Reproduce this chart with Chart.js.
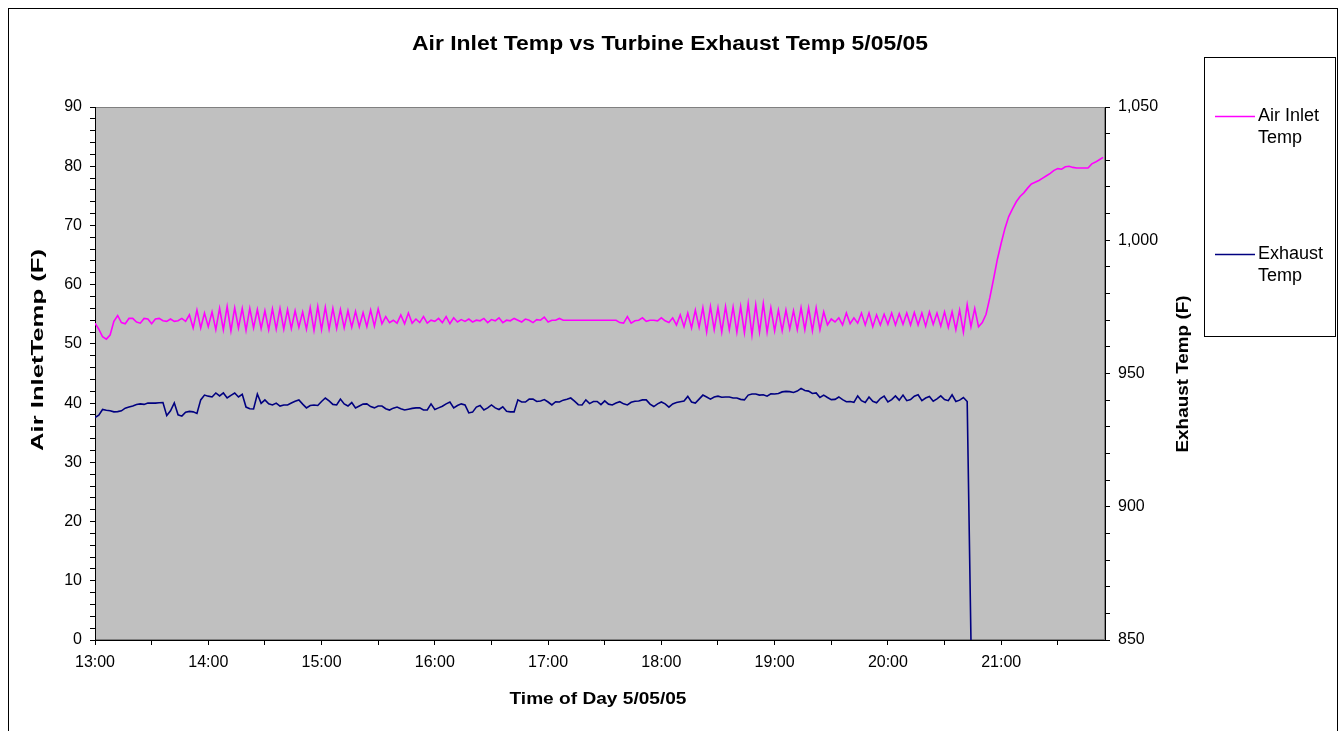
<!DOCTYPE html>
<html>
<head>
<meta charset="utf-8">
<title>Air Inlet Temp vs Turbine Exhaust Temp 5/05/05</title>
<script src="https://cdn.jsdelivr.net/npm/chart.js@4.4.1/dist/chart.umd.min.js"></script>
<style>
  html, body { margin: 0; padding: 0; background: #fff; }
  .chart-wrap { width: 1342px; height: 731px; }
</style>
</head>
<body>
<div class="chart-wrap"><canvas id="js-temp-chart"></canvas></div>
<script>
// readings every 2 minutes starting 13:00
const sampleStep = 2;
const tickHours = ['13:00', '14:00', '15:00', '16:00', '17:00', '18:00', '19:00', '20:00', '21:00'];

const airInletTemp = [
  53.5, 52.5, 51.2, 50.8, 51.5, 53.8, 54.8, 53.6, 53.4, 54.3,
  54.3, 53.7, 53.5, 54.3, 54.2, 53.4, 54.2, 54.3, 53.9, 53.8,
  54.2, 53.8, 53.9, 54.3, 53.8, 54.9, 52.7, 55.7, 52.7, 55.2,
  52.9, 55.4, 52.4, 56.0, 52.4, 56.3, 52.2, 56.1, 52.7, 56.0,
  52.3, 56.0, 52.7, 55.8, 52.6, 55.6, 52.4, 55.9, 52.5, 56.0,
  52.5, 55.8, 52.6, 55.6, 52.8, 55.4, 52.5, 56.1, 52.3, 56.3,
  52.4, 56.2, 52.5, 56.0, 52.6, 55.8, 52.7, 55.6, 52.8, 55.5,
  52.9, 55.3, 52.9, 55.7, 53.0, 55.9, 53.4, 54.6, 53.6, 54.0,
  53.5, 54.9, 53.4, 55.2, 53.5, 54.2, 53.6, 54.6, 53.5, 54.0,
  53.8, 54.3, 53.6, 54.6, 53.4, 54.4, 53.7, 54.1, 53.8, 54.2,
  53.7, 54.0, 53.9, 54.3, 53.6, 54.1, 53.9, 54.4, 53.6, 54.0,
  53.9, 54.3, 54.0, 53.7, 54.2, 54.0, 53.6, 54.1, 54.0, 54.5,
  53.7, 54.0, 54.0, 54.3, 54.0, 54.0, 54.0, 54.0, 54.0, 54.0,
  54.0, 54.0, 54.0, 54.0, 54.0, 54.0, 54.0, 54.0, 54.0, 53.6,
  53.5, 54.6, 53.5, 53.9, 54.0, 54.4, 53.8, 54.0, 54.0, 53.9,
  54.4, 53.9, 53.6, 54.4, 53.2, 54.9, 52.9, 55.2, 52.7, 55.7,
  52.8, 56.1, 52.0, 56.3, 52.4, 56.1, 52.0, 56.3, 52.4, 56.2,
  52.0, 56.3, 51.9, 56.8, 51.5, 56.6, 52.0, 56.8, 52.0, 56.1,
  52.2, 55.7, 52.2, 55.7, 52.5, 55.6, 52.4, 56.1, 52.4, 56.1,
  52.2, 56.1, 52.4, 55.4, 53.2, 54.2, 53.7, 54.4, 53.2, 55.2,
  53.4, 54.4, 53.5, 55.2, 53.2, 55.2, 52.9, 54.9, 53.2, 55.0,
  53.3, 55.2, 53.2, 55.1, 53.3, 55.2, 53.2, 55.3, 53.2, 55.2,
  53.0, 55.4, 53.3, 55.2, 53.0, 55.4, 52.8, 55.4, 52.4, 55.7,
  52.0, 56.6, 52.9, 56.0, 52.9, 53.6, 55.0, 57.8, 61.0, 64.3,
  67.0, 69.5, 71.5, 72.8, 74.0, 74.9, 75.5, 76.3, 77.0, 77.3,
  77.6, 78.0, 78.4, 78.8, 79.3, 79.6, 79.5, 79.9, 80.0, 79.8,
  79.7, 79.7, 79.7, 79.7, 80.4, 80.7, 81.1, 81.5
];

const exhaustTemp = [
  933.5, 934.4, 936.5, 936.2, 936.0, 935.6, 935.7, 936.0, 937.0, 937.4,
  937.8, 938.4, 938.6, 938.4, 938.9, 938.9, 938.9, 939.0, 939.1, 934.2,
  936.0, 939.0, 934.5, 934.0, 935.5, 935.8, 935.6, 935.0, 940.1, 941.9,
  941.5, 941.2, 942.7, 941.6, 942.7, 940.8, 941.8, 942.7, 941.2, 942.2,
  937.4, 936.8, 936.7, 942.3, 938.8, 940.1, 938.6, 938.2, 938.9, 937.8,
  938.2, 938.2, 938.9, 939.6, 940.1, 938.5, 937.1, 938.0, 938.2, 938.0,
  939.5, 940.8, 939.7, 938.4, 938.2, 940.4, 938.6, 937.8, 939.1, 937.1,
  937.8, 938.5, 938.6, 937.6, 937.1, 937.8, 937.8, 936.8, 936.3, 937.0,
  937.4, 936.8, 936.3, 936.6, 936.9, 937.1, 937.1, 936.3, 936.3, 938.6,
  936.5, 937.1, 937.7, 938.6, 939.3, 937.1, 938.0, 938.6, 938.2, 935.2,
  935.5, 937.4, 938.0, 936.3, 937.1, 938.2, 937.1, 936.5, 937.5, 935.8,
  935.6, 935.6, 940.1, 939.3, 939.3, 940.4, 940.4, 939.5, 939.7, 940.2,
  939.3, 938.2, 939.4, 939.3, 940.0, 940.3, 940.8, 939.6, 938.3, 938.2,
  940.1, 938.7, 939.5, 939.5, 938.3, 939.7, 938.5, 938.2, 938.9, 939.4,
  938.6, 938.2, 939.2, 939.6, 939.7, 940.1, 940.1, 938.5, 937.6, 938.6,
  939.3, 938.6, 937.4, 938.6, 939.1, 939.4, 939.7, 941.4, 939.3, 938.9,
  940.4, 941.9, 941.2, 940.4, 941.2, 941.5, 941.1, 941.2, 941.2, 940.8,
  940.8, 940.3, 940.1, 941.9, 942.3, 942.3, 941.9, 942.0, 941.5, 942.4,
  942.3, 942.5, 943.1, 943.3, 943.2, 942.9, 943.4, 944.4, 943.6, 943.4,
  942.5, 942.7, 941.0, 941.9, 941.0, 940.2, 940.3, 941.2, 940.2, 939.4,
  939.5, 939.2, 941.6, 939.8, 939.1, 941.2, 939.6, 939.0, 940.6, 941.5,
  939.3, 940.2, 941.6, 940.0, 941.9, 939.8, 940.2, 941.5, 942.0, 939.8,
  940.8, 941.4, 939.6, 940.5, 941.6, 940.2, 939.8, 942.0, 939.5, 940.0,
  941.0, 939.5, 850.0
];

const tempCanvas = document.querySelector('#js-temp-chart');
const fontFamily = "'Liberation Sans', Arial, sans-serif";

Chart.defaults.font.family = fontFamily;
Chart.defaults.color = '#000';

const toPoints = (values) => values.map((v, i) => ({ x: i * sampleStep, y: v }));

// stretch a label along its own direction so it spans the given length
const drawFittedText = (ctx, text, x, y, length, rotation) => {
  ctx.save();
  ctx.translate(x, y);
  ctx.rotate(rotation);
  ctx.scale(length / ctx.measureText(text).width, 1);
  ctx.fillText(text, 0, 0);
  ctx.restore();
};

const chartDecor = {
  id: 'chartDecor',
  beforeDraw(chart) {
    const { ctx, chartArea: { left, top, right, bottom } } = chart;
    ctx.save();
    ctx.fillStyle = '#fff';
    ctx.fillRect(0, 0, chart.width, chart.height);
    ctx.fillStyle = '#c0c0c0';
    ctx.fillRect(left, top, right - left, bottom - top);
    ctx.strokeStyle = '#808080';
    ctx.lineWidth = 1;
    ctx.strokeRect(left + 0.5, top + 0.5, right - left - 1, bottom - top - 1);
    ctx.restore();
  },
  afterDraw(chart) {
    const { ctx } = chart;
    ctx.save();

    // outer frame
    ctx.strokeStyle = '#000';
    ctx.lineWidth = 1;
    ctx.strokeRect(8.5, 8.5, 1329, 740);

    ctx.fillStyle = '#000';
    ctx.textAlign = 'center';
    ctx.textBaseline = 'middle';

    ctx.font = `bold 20px ${fontFamily}`;
    drawFittedText(ctx, 'Air Inlet Temp vs Turbine Exhaust Temp 5/05/05', 670, 44, 516, 0);

    ctx.font = `bold 17px ${fontFamily}`;
    drawFittedText(ctx, 'Time of Day 5/05/05', 598, 699, 177, 0);
    drawFittedText(ctx, 'Air InletTemp (F)', 38, 350, 202, -Math.PI / 2);
    drawFittedText(ctx, 'Exhaust Temp (F)', 1183, 374, 157, -Math.PI / 2);

    // legend box
    ctx.fillStyle = '#fff';
    ctx.fillRect(1204, 57, 131, 279);
    ctx.strokeRect(1204.5, 57.5, 131, 279);

    const legendItems = [
      { lines: ['Air Inlet', 'Temp'], color: '#ff00ff', y: 116 },
      { lines: ['Exhaust', 'Temp'], color: '#000080', y: 254 },
    ];

    ctx.font = `18px ${fontFamily}`;
    ctx.textAlign = 'left';
    for (const item of legendItems) {
      ctx.strokeStyle = item.color;
      ctx.lineWidth = 1.5;
      ctx.beginPath();
      ctx.moveTo(1215, item.y + 0.5);
      ctx.lineTo(1255, item.y + 0.5);
      ctx.stroke();
      ctx.fillStyle = '#000';
      item.lines.forEach((line, i) => ctx.fillText(line, 1258, item.y + i * 22));
    }

    ctx.restore();
  }
};

const tempData = {
  datasets: [
    {
      label: 'Air Inlet Temp',
      data: toPoints(airInletTemp),
      borderColor: '#ff00ff',
      borderWidth: 1.6,
      pointRadius: 0,
      yAxisID: 'y',
    },
    {
      label: 'Exhaust Temp',
      data: toPoints(exhaustTemp),
      borderColor: '#000080',
      borderWidth: 1.6,
      pointRadius: 0,
      yAxisID: 'y1',
    }
  ]
};

const tickFont = { size: 16 };
const axisGrid = { drawOnChartArea: false, tickLength: 5, color: '#000' };
const axisBorder = { color: '#000', width: 1 };

const tempConfig = {
  type: 'line',
  data: tempData,
  plugins: [chartDecor],
  options: {
    responsive: true,
    maintainAspectRatio: false,
    animation: false,
    layout: {
      padding: { top: 107, left: 0, right: 0, bottom: 0 }
    },
    scales: {
      x: {
        type: 'linear',
        min: 0,
        max: 535,
        grid: axisGrid,
        border: axisBorder,
        ticks: {
          stepSize: 30,
          autoSkip: false,
          includeBounds: false,
          maxRotation: 0,
          padding: 8,
          font: tickFont,
          callback: (value) => value % 60 === 0 ? tickHours[value / 60] : ''
        },
        afterFit: (scale) => {
          scale.height = 91;
          scale.paddingLeft = 0;
          scale.paddingRight = 0;
        }
      },
      y: {
        position: 'left',
        min: 0,
        max: 90,
        grid: axisGrid,
        border: axisBorder,
        ticks: {
          stepSize: 2,
          autoSkip: false,
          padding: 8,
          font: tickFont,
          callback: (value) => value % 10 === 0 ? value : ''
        },
        afterFit: (scale) => {
          scale.width = 95;
          scale.paddingTop = 0;
          scale.paddingBottom = 0;
        }
      },
      y1: {
        position: 'right',
        min: 850,
        max: 1050,
        grid: axisGrid,
        border: axisBorder,
        ticks: {
          stepSize: 10,
          autoSkip: false,
          padding: 8,
          font: tickFont,
          callback: (value) => value % 50 === 0 ? value.toLocaleString('en-US') : ''
        },
        afterFit: (scale) => {
          scale.width = 237;
          scale.paddingTop = 0;
          scale.paddingBottom = 0;
        }
      }
    },
    plugins: {
      legend: {
        display: false
      },
      tooltip: {
        enabled: false
      }
    },
    tension: 0
  }
};

new Chart(tempCanvas, tempConfig);
</script>
</body>
</html>
